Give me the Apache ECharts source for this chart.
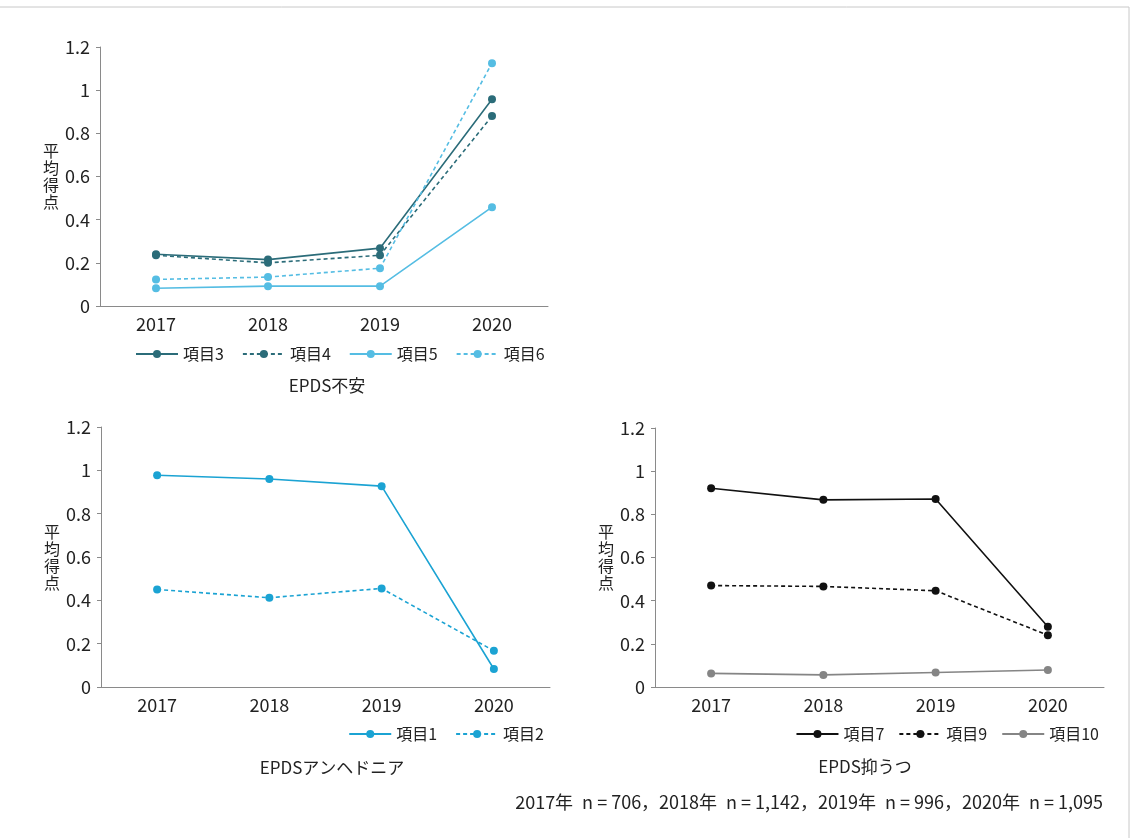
<!DOCTYPE html>
<html><head><meta charset="utf-8">
<script src="https://cdn.jsdelivr.net/npm/echarts@6/dist/echarts.min.js"></script>
<style>html,body{margin:0;padding:0;background:#fff}#c{width:1134px;height:838px}</style>
</head><body><div id="c"></div>
<script>
var years = ['2017','2018','2019','2020'];
var yTicks = [0,0.2,0.4,0.6,0.8,1,1.2];
// EPDS不安
var item3 = [0.24, 0.215, 0.268, 0.958];
var item4 = [0.235, 0.2, 0.235, 0.88];
var item5 = [0.082, 0.092, 0.092, 0.458];
var item6 = [0.123, 0.134, 0.175, 1.125];
// EPDSアンヘドニア
var item1 = [0.977, 0.96, 0.927, 0.083];
var item2 = [0.45, 0.412, 0.455, 0.167];
// EPDS抑うつ
var item7 = [0.921, 0.867, 0.871, 0.279];
var item9 = [0.47, 0.466, 0.446, 0.24];
var item10 = [0.063, 0.056, 0.067, 0.079];
var titles = ['EPDS不安','EPDSアンヘドニア','EPDS抑うつ'];
var footnote = '2017年\u2002n = 706，2018年\u2002n = 1,142，2019年\u2002n = 996，2020年\u2002n = 1,095';

var FONT = '"Noto Sans CJK JP", "Noto Sans", sans-serif';
var TEAL = '#2b6c79', LIGHT = '#55bde3', CYAN = '#1ba3d3', BLACK = '#111111', GRAY = '#858585';

function xa(i){return {type:'category',gridIndex:i,data:years,boundaryGap:true,
  axisLine:{lineStyle:{color:'#8a8a8a',width:1}},axisTick:{show:false},
  axisLabel:{color:'#222',fontSize:18,fontFamily:FONT,margin:9}};}
function ya(i){return {type:'value',gridIndex:i,min:0,max:1.2,interval:0.2,
  name:'平\n均\n得\n点',nameLocation:'middle',nameRotate:0,nameGap:41,
  nameTextStyle:{color:'#222',fontSize:16,fontFamily:FONT,lineHeight:17},
  axisLine:{show:true,lineStyle:{color:'#8a8a8a',width:1}},
  axisTick:{show:true,length:4,lineStyle:{color:'#8a8a8a'}},
  splitLine:{show:false},
  axisLabel:{color:'#222',fontSize:18,fontFamily:FONT,margin:10}};}
function s(name,data,gi,color,dashed){return {name:name,type:'line',xAxisIndex:gi,yAxisIndex:gi,data:data,
  symbol:'circle',symbolSize:8,itemStyle:{color:color},
  lineStyle:{color:color,width:1.6,type:dashed?[4,3]:'solid'},animation:false};}
var LT = {fontSize:16,color:'#222',fontFamily:FONT};
var TT = {fontSize:17,fontWeight:'normal',color:'#222',fontFamily:FONT};

var chart = echarts.init(document.getElementById('c'));
chart.setOption({
  backgroundColor:'#fff',
  textStyle:{fontFamily:FONT},
  grid:[
    {left:100,top:47,width:448,height:259},
    {left:101,top:427,width:449,height:260},
    {left:655,top:428,width:449,height:259}
  ],
  xAxis:[xa(0),xa(1),xa(2)],
  yAxis:[ya(0),ya(1),ya(2)],
  legend:[
    {left:130,top:341,itemWidth:42,itemHeight:10,itemGap:18,textStyle:LT,
     data:['項目3','項目4','項目5','項目6']},
    {right:585,top:721,itemWidth:42,itemHeight:10,itemGap:18,textStyle:LT,
     data:['項目1','項目2']},
    {right:30,top:721,itemWidth:42,itemHeight:10,itemGap:14,textStyle:LT,
     data:['項目7','項目9','項目10']}
  ],
  title:[
    {text:titles[0],left:322,top:372,textAlign:'center',textStyle:TT},
    {text:titles[1],left:327,top:754,textAlign:'center',textStyle:TT},
    {text:titles[2],left:860,top:753,textAlign:'center',textStyle:TT},
    {text:footnote,right:26,top:788,textStyle:{fontSize:18,fontWeight:'normal',color:'#222',fontFamily:FONT}}
  ],
  graphic:[{type:'rect',shape:{x:-2,y:7,width:1131,height:840},style:{fill:'none',stroke:'#c8c8c8',lineWidth:1},silent:true}],
  series:[
    s('項目3',item3,0,TEAL,false),
    s('項目4',item4,0,TEAL,true),
    s('項目5',item5,0,LIGHT,false),
    s('項目6',item6,0,LIGHT,true),
    s('項目1',item1,1,CYAN,false),
    s('項目2',item2,1,CYAN,true),
    s('項目7',item7,2,BLACK,false),
    s('項目9',item9,2,BLACK,true),
    s('項目10',item10,2,GRAY,false)
  ]
});
</script></body></html>
